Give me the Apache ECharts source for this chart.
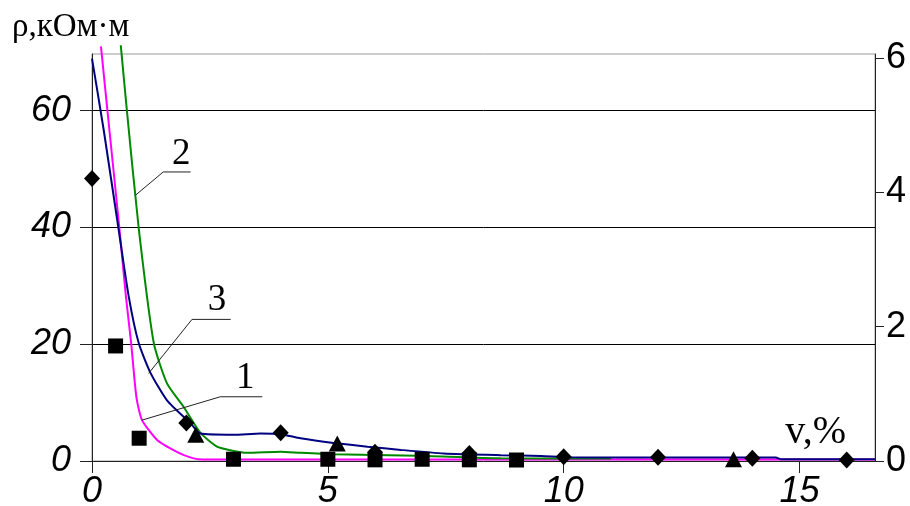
<!DOCTYPE html>
<html>
<head>
<meta charset="utf-8">
<script src="https://cdn.jsdelivr.net/npm/echarts@6/dist/echarts.min.js"></script>
<style>
  html, body { margin: 0; padding: 0; background: #fff; }
  #chart { width: 910px; height: 506px; }
</style>
</head>
<body>
<div id="chart"></div>
<script>
// Resistivity ρ (kOhm·m) versus volume fraction v (%)

// Curve 1 (magenta)
const curve1X = [0.19, 0.37, 0.58, 0.72, 0.83, 0.94, 1.06, 1.38, 1.66, 1.95, 2.26, 3.0, 5.0, 8.0, 12.0, 16.6];
const curve1Y = [71.0, 56.6, 39.9, 28.1, 20.2, 11.0, 7.0, 3.6, 2.15, 1.0, 0.3, 0.25, 0.25, 0.25, 0.25, 0.25];

// Curve 2 (green)
const curve2X = [0.61, 0.74, 0.99, 1.31, 1.59, 1.94, 2.30, 2.65, 2.95, 3.29, 4.0, 4.42, 5.12, 6.9, 8.67, 11.0];
const curve2Y = [71.2, 60.0, 39.9, 20.2, 13.3, 9.3, 4.8, 2.45, 1.8, 1.4, 1.6, 1.4, 1.15, 0.9, 0.46, 0.43];

// Curve 3 (navy)
const curve3X = [0, 0.25, 0.56, 0.78, 0.99, 1.24, 1.59, 2.09, 2.30, 3.0, 3.57, 4.0, 4.42, 5.12, 5.84, 6.55, 7.46, 8.67, 9.52, 10.09, 12.0, 14.5, 14.6, 16.6];
const curve3Y = [68.9, 56.6, 39.9, 28.1, 20.2, 15.1, 10.4, 6.45, 4.7, 4.5, 4.7, 4.6, 3.9, 3.1, 2.45, 1.9, 1.3, 1.0, 0.86, 0.63, 0.6, 0.58, 0.3, 0.3];

// Measured points
const diamondX = [0, 2, 4, 6, 8, 10, 12, 14, 16];
const diamondY = [48.4, 6.5, 4.85, 1.5, 1.3, 0.74, 0.63, 0.46, 0.17];
const squareX = [0.5, 1, 3, 5, 6, 7, 8, 9];
const squareY = [19.7, 3.9, 0.3, 0.3, 0.2, 0.3, 0.2, 0.17];
const triangleX = [2.2, 5.2, 13.6];
const triangleY = [4.5, 3.0, 0.3];

// Curve number callouts: leader (on curve -> knee -> end of underline) and text spot
const calloutNames = ['2', '3', '1'];
const calloutLeaders = [
  [[0.92, 45.5], [1.51, 49.5], [2.09, 49.5]],
  [[1.20, 15.0], [2.12, 24.25], [2.94, 24.25]],
  [[1.06, 7.0], [2.72, 11.0], [3.61, 11.0]]
];
const calloutText = [[1.89, 52.6], [2.65, 27.6], [3.25, 14.2]];

// Axis tick values
const xTicks = [0, 5, 10, 15];
const yLeftTicks = [0, 20, 40, 60];
const yRightTicks = [0, 2, 4, 6];

const zip = (xs, ys) => xs.map((x, i) => [x, ys[i]]);

const chart = echarts.init(document.getElementById('chart'));

const lineSeries = (data, color) => ({
  type: 'line',
  data: data,
  symbol: 'none',
  smooth: 0.2,
  clip: false,
  lineStyle: { color: color, width: 2 },
  z: 3,
  silent: true
});

const pointSeries = (data, symbol, size) => ({
  type: 'scatter',
  data: data,
  symbol: symbol,
  symbolSize: size,
  itemStyle: { color: '#000', opacity: 1 },
  z: 5,
  silent: true
});

const series = [
  lineSeries(zip(curve1X, curve1Y), '#ff00ff'),
  lineSeries(zip(curve2X, curve2Y), '#008a00'),
  lineSeries(zip(curve3X, curve3Y), '#000080'),
  pointSeries(zip(squareX, squareY), 'rect', 15),
  pointSeries(zip(triangleX, triangleY), 'triangle', [17, 16]),
  pointSeries(zip(diamondX, diamondY), 'diamond', [16, 17])
];

calloutLeaders.forEach(pts => {
  series.push({
    type: 'line',
    data: pts,
    symbol: 'none',
    smooth: false,
    clip: false,
    lineStyle: { color: '#222', width: 1 },
    z: 4,
    silent: true
  });
});

series.push({
  type: 'scatter',
  data: calloutText.map((p, i) => ({ value: p, name: calloutNames[i] })),
  symbolSize: 2,
  itemStyle: { color: 'rgba(0,0,0,0)', opacity: 1 },
  label: {
    show: true,
    position: 'inside',
    formatter: p => p.name,
    fontFamily: 'Liberation Serif',
    fontSize: 37,
    color: '#000',
    opacity: 1,
    textBorderWidth: 0
  },
  labelLayout: { hideOverlap: false },
  z: 6,
  silent: true
});

const labelOnly = ticks => v => (ticks.indexOf(Math.round(v * 1000) / 1000) >= 0 ? String(v) : '');

chart.setOption({
  animation: false,
  backgroundColor: '#fff',
  title: {
    text: 'ρ,кОм·м',
    left: 7,
    top: 6,
    textStyle: { fontFamily: 'Liberation Serif', fontSize: 33, fontWeight: 'normal', color: '#000' }
  },
  graphic: [{
    type: 'text',
    right: 64,
    top: 412,
    style: { text: 'v,%', font: '40px "Liberation Serif"', fill: '#000' }
  }],
  grid: {
    left: 92, right: 35, top: 54, bottom: 45,
    outerBoundsMode: 'none',
    show: true, borderColor: '#9a9a9a', borderWidth: 1
  },
  xAxis: {
    type: 'value',
    min: 0, max: 16.6, interval: 5,
    axisLine: { show: true, onZero: false, lineStyle: { color: '#222', width: 1 } },
    axisTick: { show: true, inside: false, length: 12, lineStyle: { color: '#222' } },
    splitLine: { show: false },
    axisLabel: {
      margin: 13,
      showMaxLabel: false,
      formatter: labelOnly(xTicks),
      fontFamily: 'Liberation Sans', fontStyle: 'italic', fontSize: 36, color: '#000'
    }
  },
  yAxis: [{
    type: 'value',
    min: 0, max: 69.7, interval: 20,
    axisLine: { show: true, onZero: false, lineStyle: { color: '#222', width: 1 } },
    axisTick: { show: true, inside: false, length: 12, lineStyle: { color: '#222' } },
    splitLine: { show: true, showMinLine: false, showMaxLine: false, lineStyle: { color: '#000', width: 1 } },
    axisLabel: {
      margin: 21,
      showMaxLabel: false,
      formatter: labelOnly(yLeftTicks),
      fontFamily: 'Liberation Sans', fontStyle: 'italic', fontSize: 36, color: '#000'
    }
  }, {
    type: 'value',
    position: 'right',
    min: 0, max: 6.06, interval: 2,
    axisLine: { show: true, onZero: false, lineStyle: { color: '#222', width: 1 } },
    axisTick: { show: true, inside: false, length: 9, customValues: yRightTicks, lineStyle: { color: '#222' } },
    splitLine: { show: false },
    axisLabel: {
      margin: 11,
      customValues: yRightTicks,
      formatter: labelOnly(yRightTicks),
      fontFamily: 'Liberation Sans', fontSize: 36, color: '#000'
    }
  }],
  series: series
});
</script>
</body>
</html>
